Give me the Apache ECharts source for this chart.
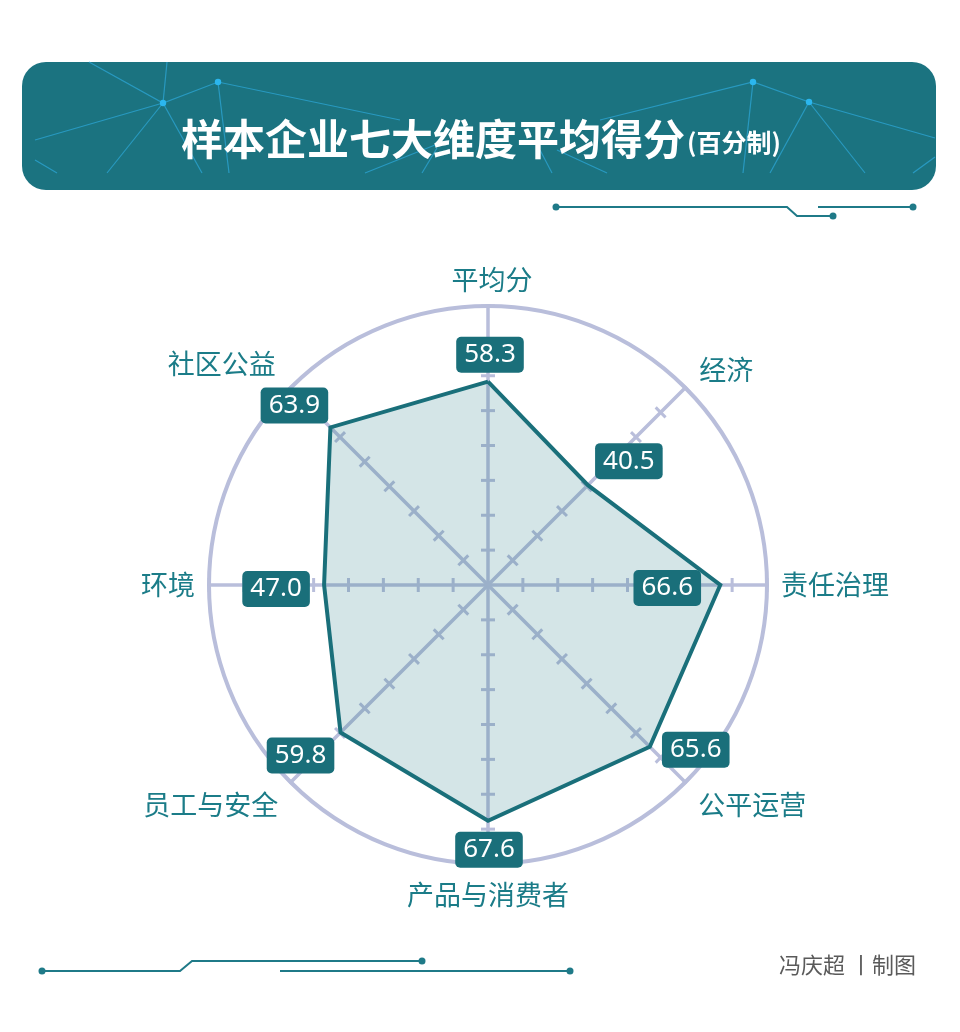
<!DOCTYPE html>
<html>
<head>
<meta charset="utf-8">
<script src="https://cdn.jsdelivr.net/npm/echarts@6/dist/echarts.min.js"></script>
<style>
html,body{margin:0;padding:0;background:#fff;}
#main{width:960px;height:1032px;}
</style>
</head>
<body>
<div id="main"></div>
<script>
// ---- data ----
const categories = ['平均分', '经济', '责任治理', '公平运营', '产品与消费者', '员工与安全', '环境', '社区公益'];
const values = [58.3, 40.5, 66.6, 65.6, 67.6, 59.8, 47.0, 63.9];
const axisMax = 80;
const tickValues = [10, 20, 30, 40, 50, 60, 70, 80];
const titleMain = '样本企业七大维度平均得分';
const titleSub = '(百分制)';
const credit = '冯庆超 丨制图';

// ---- layout / style ----
const valueLabelOffsets = [[2, -27], [41, -24], [-53, 3], [46, 3], [1, 29], [-40, 23], [-48, 4], [-36, -22]];
const nameOffsets = [[4, -26], [41, -18], [68, 0], [67, 22], [0, 31], [-80, 22], [-41, 0], [-69, -24]];
const center = [488, 585];
const radius = 279;
const teal = '#1b7380';
const labelTeal = '#1a6f7a';
const axisColor = '#b9bedb';
const nameColor = '#1b7c88';
const font = 'Noto Sans CJK SC';

// radar lays indicators counter-clockwise; reorder so reading order runs clockwise
const order = categories.map((_, i) => (categories.length - i) % categories.length);
const indicators = order.map(i => ({ name: categories[i], max: axisMax, min: 0 }));

const chart = echarts.init(document.getElementById('main'), null, { renderer: 'canvas' });

const deco = '#1f7a88';
const bannerLine = 'rgba(45,170,220,0.7)';
const bannerDot = '#2bb6ee';
function line(pts, color, w) {
  return { type: 'polyline', shape: { points: pts }, style: { stroke: color, lineWidth: w, fill: null }, silent: true };
}
function dot(x, y, r, color) {
  return { type: 'circle', shape: { cx: x, cy: y, r: r }, style: { fill: color }, silent: true };
}

const graphics = [
  { type: 'rect', shape: { x: 22, y: 62, width: 914, height: 128, r: 24 }, style: { fill: teal }, silent: true },
  // banner network lines (decoration)
  line([[89, 62], [163, 103], [218, 82], [400, 120]], bannerLine, 1.2),
  line([[167, 62], [163, 103]], bannerLine, 1.2),
  line([[163, 103], [35, 140]], bannerLine, 1.2),
  line([[163, 103], [107, 173]], bannerLine, 1.2),
  line([[163, 103], [202, 173]], bannerLine, 1.2),
  line([[218, 82], [229, 173]], bannerLine, 1.2),
  line([[35, 160], [57, 173]], bannerLine, 1.2),
  line([[365, 173], [435, 145]], bannerLine, 1.2),
  line([[422, 173], [437, 148]], bannerLine, 1.2),
  line([[540, 150], [552, 173]], bannerLine, 1.2),
  line([[557, 150], [607, 173]], bannerLine, 1.2),
  line([[600, 120], [753, 82], [809, 102], [935, 138]], bannerLine, 1.2),
  line([[753, 82], [743, 173]], bannerLine, 1.2),
  line([[809, 102], [770, 173]], bannerLine, 1.2),
  line([[809, 102], [865, 173]], bannerLine, 1.2),
  line([[913, 173], [935, 157]], bannerLine, 1.2),
  dot(163, 103, 3.2, bannerDot), dot(218, 82, 3.2, bannerDot),
  dot(753, 82, 3.2, bannerDot), dot(809, 102, 3.2, bannerDot),
  // under-banner circuit decoration
  line([[556, 207], [787, 207], [797, 216], [833, 216]], deco, 2),
  line([[818, 207], [913, 207]], deco, 2),
  dot(556, 207, 3.5, deco), dot(833, 216, 3.5, deco), dot(913, 207, 3.5, deco),
  // bottom circuit decoration
  line([[42, 971], [180, 971], [192, 961], [422, 961]], deco, 2),
  line([[280, 971], [570, 971]], deco, 2),
  dot(42, 971, 3.5, deco), dot(422, 961, 3.5, deco), dot(570, 971, 3.5, deco),
  {
    type: 'text', right: 44, top: 954,
    style: { text: credit, fill: '#5a5a5a', font: '22px "Noto Sans CJK SC"' }, silent: true
  }
];

const hiddenAxis = { axisLine: { show: false }, axisTick: { show: false }, axisLabel: { show: false }, splitLine: { show: false } };

const option = {
  backgroundColor: '#fff',
  animation: false,
  title: {
    text: '{a|' + titleMain + '}{b|' + titleSub + '}',
    left: 476, top: 110, textAlign: 'center',
    textStyle: {
      rich: {
        a: { color: '#fff', fontSize: 42, fontWeight: 'bold', fontFamily: font, lineHeight: 48 },
        b: { color: '#fff', fontSize: 25, fontWeight: 'bold', fontFamily: font, padding: [6, 0, 0, 2], lineHeight: 48 }
      }
    },
    z: 10
  },
  graphic: { elements: graphics },
  radar: {
    center: center, radius: radius, startAngle: 90, shape: 'circle',
    indicator: indicators, splitNumber: 1,
    axisName: { show: false },
    axisLine: { show: true, lineStyle: { color: axisColor, width: 3.5 } },
    splitLine: { show: true, lineStyle: { color: axisColor, width: 4 } },
    splitArea: { show: false },
    axisTick: { show: false },
    axisLabel: { show: false }
  },
  polar: { center: center, radius: [0, radius] },
  angleAxis: Object.assign({ type: 'category', data: categories, startAngle: 90, clockwise: true, boundaryGap: false }, hiddenAxis),
  radiusAxis: Object.assign({ type: 'value', min: 0, max: axisMax }, hiddenAxis),
  series: [
    {
      // tick marks across each spoke
      type: 'scatter', coordinateSystem: 'polar', symbol: 'rect', symbolSize: [14, 3], z: 2, silent: true,
      itemStyle: { color: axisColor, opacity: 1 },
      data: categories.flatMap((c, i) => tickValues.map(t => ({ value: [t, c], symbolRotate: -i * 360 / categories.length })))
    },
    {
      type: 'radar', symbol: 'none', z: 3, silent: true,
      lineStyle: { color: labelTeal, width: 4, join: 'miter' },
      areaStyle: { color: '#1b7380', opacity: 0.19 },
      data: [{ value: order.map(i => values[i]) }]
    },
    {
      // value labels
      type: 'scatter', coordinateSystem: 'polar', symbolSize: 1, z: 5, silent: true,
      itemStyle: { color: 'rgba(0,0,0,0)', opacity: 1 },
      label: {
        show: true, position: 'inside',
        formatter: p => p.value[0].toFixed(1),
        color: '#fff', fontSize: 26, fontFamily: 'Noto Sans', lineHeight: 30,
        backgroundColor: labelTeal, borderRadius: 5, padding: [3, 8, 3, 8]
      },
      data: categories.map((c, i) => ({ value: [values[i], c], label: { offset: valueLabelOffsets[i] } }))
    },
    {
      // indicator names at the outer ring
      type: 'scatter', coordinateSystem: 'polar', symbolSize: 1, z: 5, silent: true,
      itemStyle: { color: 'rgba(0,0,0,0)', opacity: 1 },
      label: {
        show: true, position: 'inside',
        formatter: p => p.value[1],
        color: nameColor, fontSize: 27, fontFamily: font
      },
      data: categories.map((c, i) => ({ value: [axisMax, c], label: { offset: nameOffsets[i] } }))
    }
  ]
};

chart.setOption(option);
</script>
</body>
</html>
